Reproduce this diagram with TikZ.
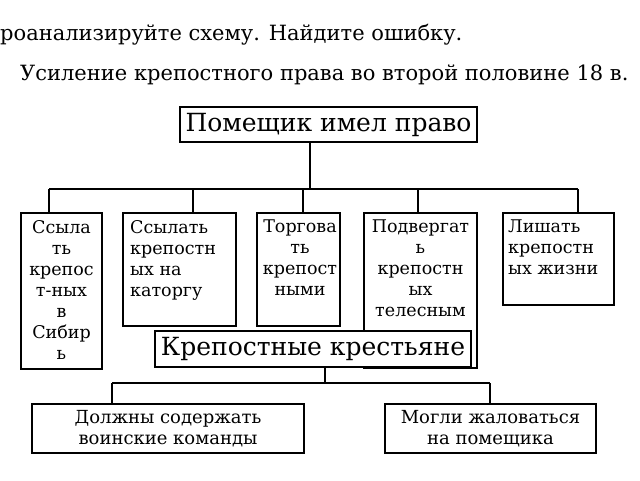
\documentclass[tikz,border=0pt]{standalone}
\usepackage{fontspec}
\setmainfont{DejaVu Serif}
\begin{document}
\begin{tikzpicture}[x=1pt,y=-1pt,
  box/.style={draw,line width=1.6pt,fill=white},
  ln/.style={line width=1.6pt},
  txt/.style={inner sep=0pt,font=\fontsize{17.5}{21}\selectfont},
  hdr/.style={inner sep=0pt,font=\fontsize{21}{24}\selectfont}]
\useasboundingbox (0,0) rectangle (640,480);
\node[hdr,anchor=west] (t1) at (0,35) {роанализируйте схему. Найдите ошибку.};
\node[hdr,anchor=west] (t2) at (20,75) {Усиление крепостного права во второй половине 18 в.};
% top box
\node[box,minimum width=297pt,minimum height=35pt,inner sep=0pt,font=\fontsize{25}{28}\selectfont] (top) at (328.5,124.5) {Помещик имел право};
\coordinate (hub) at (310,189);
\coordinate (hl) at (49,189);
\coordinate (hr) at (578,189);
\draw[ln] (top.south -| hub) -- (hub);
\draw[ln] (hl) -- (hr);
% boxes
\node[box,minimum width=81pt,minimum height=156pt,inner sep=0pt] (b1) at (61.5,291) {};
\node[box,minimum width=113pt,minimum height=113pt,inner sep=0pt] (b2) at (179.5,269.5) {};
\node[box,minimum width=83pt,minimum height=113pt,inner sep=0pt] (b3) at (298.5,269.5) {};
\node[box,minimum width=113pt,minimum height=155pt,inner sep=0pt] (b4) at (420.5,290.5) {};
\node[box,minimum width=111pt,minimum height=92pt,inner sep=0pt] (b5) at (558.5,259) {};
\foreach \x/\b in {49/b1,193/b2,303/b3,418/b4,578/b5}
  \draw[ln] (\x,189) -- (\x,213);
\node[txt,align=center,anchor=north] (l1) at (61.5,220) {Ссыла\\ть\\крепос\\т-ных\\в\\Сибир\\ь};
\node[txt,align=left,anchor=north west] (l2) at (130,220) {Ссылать\\крепостн\\ых на\\каторгу};
\node[txt,align=center,anchor=north] (l3) at (300,220) {Торгова\\ть\\крепост\\ными};
\node[txt,align=center,anchor=north] (l4) at (420.5,220) {Подвергат\\ь\\крепостн\\ых\\телесным};
\node[txt,align=left,anchor=north west] (l5) at (508,220) {Лишать\\крепостн\\ых жизни};
% peasants
\node[box,minimum width=316pt,minimum height=36pt,inner sep=0pt,font=\fontsize{25}{28}\selectfont] (kr) at (313,349) {Крепостные крестьяне};
\coordinate (hub2) at (325,383);
\draw[ln] (kr.south -| hub2) -- (hub2);
\draw[ln] (112,383) -- (490,383);
\draw[ln] (112,383) -- (112,404);
\draw[ln] (490,383) -- (490,404);
\node[box,minimum width=272pt,minimum height=49pt,inner sep=0pt,align=center,font=\fontsize{18}{21}\selectfont] (d1) at (168,428.5) {Должны содержать\\воинские команды};
\node[box,minimum width=211pt,minimum height=49pt,inner sep=0pt,align=center,font=\fontsize{18}{21}\selectfont] (d2) at (490.5,428.5) {Могли жаловаться\\на помещика};
\end{tikzpicture}
\end{document}
